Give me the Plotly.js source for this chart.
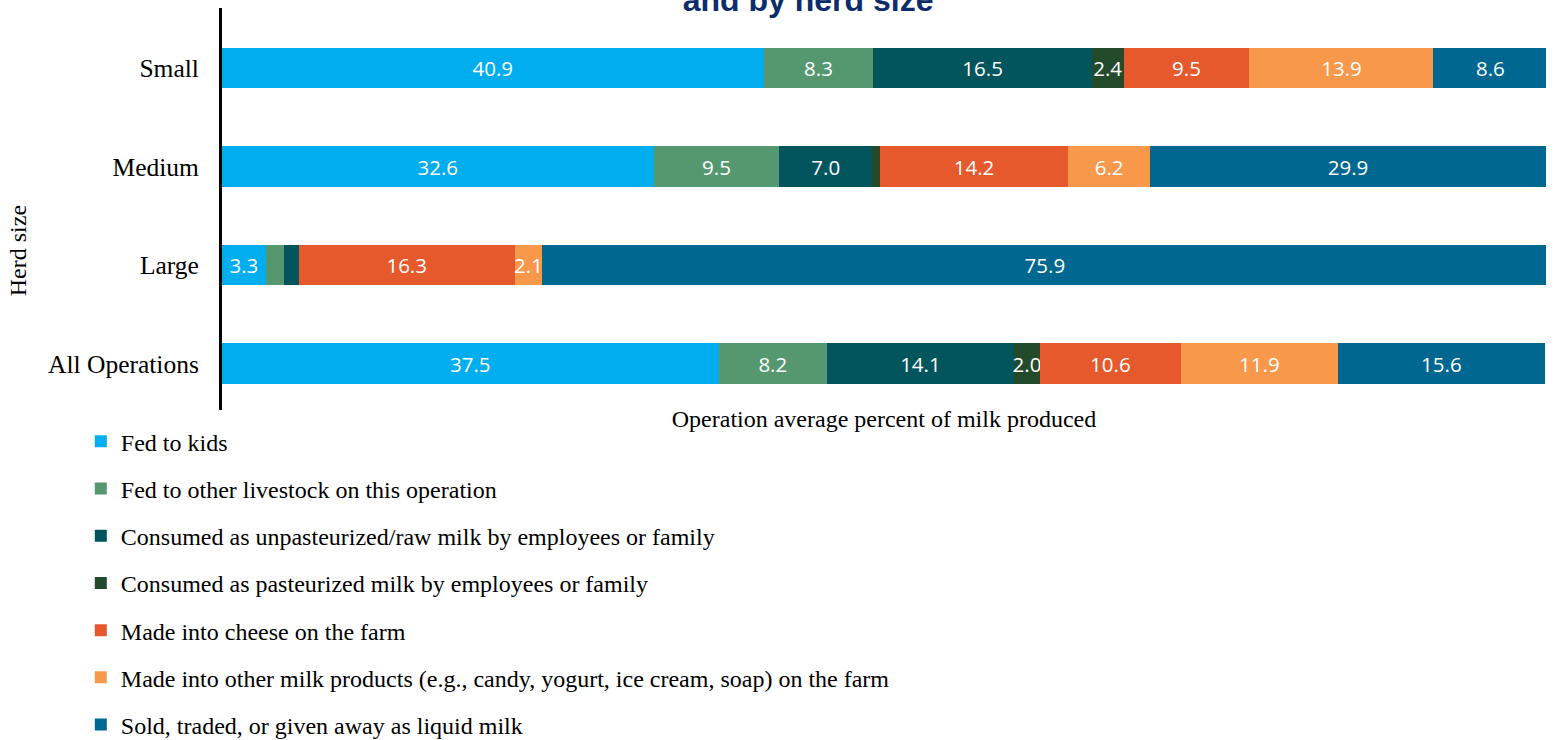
<!DOCTYPE html>
<html>
<head>
<meta charset="utf-8">
<script src="https://cdn.plot.ly/plotly-3.0.1.min.js"></script>
<style>
  html, body { margin: 0; padding: 0; background: #fff; }
  #chart { width: 1554px; height: 740px; }
</style>
</head>
<body>
<div id="chart"></div>
<script>
// Operation average percent of milk produced, by use and herd size
const herdSizes = ['Small', 'Medium', 'Large', 'All Operations'];

const fedToKids      = [40.9, 32.6, 3.3, 37.5];
const fedToLivestock = [8.3, 9.5, 1.4, 8.2];
const rawMilk        = [16.5, 7.0, 1.1, 14.1];
const pasteurized    = [2.4, 0.6, 0.0, 2.0];
const cheese         = [9.5, 14.2, 16.3, 10.6];
const otherProducts  = [13.9, 6.2, 2.1, 11.9];
const soldLiquid     = [8.6, 29.9, 75.9, 15.6];

const seriesNames = [
    'Fed to kids',
    'Fed to other livestock on this operation',
    'Consumed as unpasteurized/raw milk by employees or family',
    'Consumed as pasteurized milk by employees or family',
    'Made into cheese on the farm',
    'Made into other milk products (e.g., candy, yogurt, ice cream, soap) on the farm',
    'Sold, traded, or given away as liquid milk'
];
const seriesValues = [fedToKids, fedToLivestock, rawMilk, pasteurized, cheese, otherProducts, soldLiquid];
const seriesColors = ['#00aeef', '#55986f', '#03555d', '#224a2b', '#e5592d', '#f7984a', '#006890'];

// segments under 2% carry no label in the original
function labelFor(v) {
    return v >= 2 ? v.toFixed(1) : '';
}

const traces = seriesValues.map((vals, i) => ({
    type: 'bar',
    orientation: 'h',
    name: seriesNames[i],
    legendgroup: 'g' + i,
    y: herdSizes,
    x: vals,
    text: vals.map(labelFor),
    textposition: 'inside',
    insidetextanchor: 'middle',
    textangle: 0,
    textfont: { family: 'Open Sans, sans-serif', size: 20.5, color: '#ffffff' },
    marker: { color: seriesColors[i], line: { width: 0 } },
    hoverinfo: 'skip'
}));

const layout = {
    width: 1554,
    height: 740,
    margin: { l: 222, r: 8, t: 8, b: 330, autoexpand: false },
    paper_bgcolor: '#ffffff',
    plot_bgcolor: '#ffffff',
    barmode: 'stack',
    bargap: 0.59,
    showlegend: true,
    uniformtext: { mode: 'show', minsize: 20.5 },
    title: {
        text: 'and by herd size',
        font: { family: 'Liberation Sans, Arial, sans-serif', size: 32, color: '#0c2c6c', weight: 'bold' },
        xref: 'container', x: 0.52, xanchor: 'center',
        yref: 'container', y: 1, yanchor: 'middle'
    },
    xaxis: {
        range: [0, 100],
        showgrid: false,
        zeroline: false,
        showline: false,
        showticklabels: false,
        ticks: '',
        title: {
            text: 'Operation average percent of milk produced',
            font: { family: 'Liberation Serif, serif', size: 24, color: '#000' },
            standoff: 0
        }
    },
    yaxis: {
        type: 'category',
        range: [3.47, -0.61],
        showgrid: false,
        zeroline: false,
        showline: true,
        linecolor: '#000',
        linewidth: 3,
        ticks: '',
        ticklabelstandoff: 15,
        tickfont: { family: 'Liberation Serif, serif', size: 25.5, color: '#000' }
    },
    legend: {
        orientation: 'v',
        traceorder: 'grouped',
        tracegroupgap: 13,
        xref: 'container', x: 0.052, xanchor: 'left',
        yref: 'paper', y: -0.023, yanchor: 'top',
        font: { family: 'Liberation Serif, serif', size: 24, color: '#000' },
        itemwidth: 30,
        bgcolor: 'rgba(0,0,0,0)'
    },
    annotations: [{
        text: 'Herd size',
        textangle: -90,
        xref: 'paper', x: 0, xshift: -204, xanchor: 'center',
        yref: 'paper', y: 0.395, yanchor: 'middle',
        showarrow: false,
        font: { family: 'Liberation Serif, serif', size: 24, color: '#000' }
    }]
};

Plotly.newPlot('chart', traces, layout, { displayModeBar: false, staticPlot: true });
</script>
</body>
</html>
